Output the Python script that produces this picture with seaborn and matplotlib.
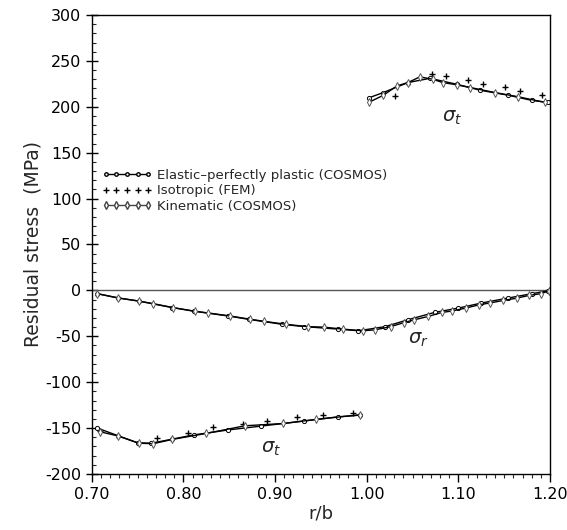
import numpy as np
import pandas as pd
import matplotlib
matplotlib.use("Agg")
import matplotlib.pyplot as plt
import seaborn as sns
from matplotlib.ticker import MultipleLocator, FormatStrFormatter
from matplotlib.lines import Line2D

# ---- data ----
series_names = ["Elastic\u2013perfectly plastic (COSMOS)", "Isotropic (FEM)", "Kinematic (COSMOS)"]

# Elastic-perfectly plastic (COSMOS)
ep_t_in_r = [0.706, 0.729, 0.750, 0.765, 0.788, 0.811, 0.849, 0.885, 0.931, 0.969, 0.993]
ep_t_in_s = [-150, -158.5, -166, -166.5, -162, -157.5, -152, -147.8, -142.4, -137.7, -135.9]
ep_r_r = [0.706, 0.729, 0.751, 0.788, 0.812, 0.849, 0.871, 0.908, 0.932, 0.969, 0.991,
          1.020, 1.045, 1.074, 1.100, 1.125, 1.154, 1.180, 1.198]
ep_r_s = [-3.6, -8.3, -11.6, -18.8, -22.8, -27.9, -31.5, -37.0, -39.5, -42.2, -44.0,
          -39.5, -32.0, -24.0, -19.3, -13.8, -8.4, -3.6, -0.5]
ep_t_out_r = [1.003, 1.018, 1.045, 1.069, 1.098, 1.124, 1.154, 1.180, 1.198]
ep_t_out_s = [210, 215.5, 226.4, 231, 224.6, 218, 212.7, 207, 204.7]

# Kinematic (COSMOS)
ki_t_in_r = [0.709, 0.729, 0.751, 0.767, 0.788, 0.825, 0.867, 0.909, 0.945, 0.993]
ki_t_in_s = [-154, -158.7, -166.5, -167, -162.3, -155.8, -147.5, -145, -140.5, -135.5]
ki_r_r = [0.706, 0.729, 0.751, 0.767, 0.789, 0.813, 0.827, 0.851, 0.873, 0.888, 0.912, 0.936,
          0.953, 0.974, 0.996, 1.009, 1.026, 1.041, 1.052, 1.067, 1.082, 1.093, 1.108, 1.123,
          1.134, 1.149, 1.164, 1.177, 1.190, 1.199]
ki_r_s = [-3.6, -8.3, -11.6, -14.5, -18.8, -22.8, -24.6, -27.9, -31.5, -33.7, -37.0, -39.5,
          -40.0, -42.2, -44.0, -43.0, -39.5, -35.0, -32.0, -28.4, -24.0, -22.5, -19.3, -15.6,
          -13.8, -11.0, -8.4, -5.5, -3.6, -0.5]
ki_t_out_r = [1.002, 1.018, 1.033, 1.045, 1.058, 1.072, 1.083, 1.098, 1.113, 1.140, 1.165, 1.195]
ki_t_out_s = [204.7, 212.5, 222.8, 226.4, 232.6, 230, 226.4, 224, 221, 215.5, 211, 204.7]

# Isotropic (FEM)
is_t_in_r = [0.709, 0.771, 0.805, 0.832, 0.865, 0.891, 0.924, 0.952, 0.985]
is_t_in_s = [-153, -161, -155, -149, -145.6, -142, -138.4, -136.2, -133.4]
is_t_out_r = [1.031, 1.071, 1.087, 1.111, 1.127, 1.151, 1.167, 1.191]
is_t_out_s = [212, 236, 233.7, 229, 225, 221.7, 217, 212.7]

# ---- figure ----
sns.set_theme(style="ticks")
plt.rcParams["font.family"] = ["DejaVu Sans"]
plt.rcParams["axes.unicode_minus"] = False
fig = plt.figure(figsize=(5.67, 5.30), dpi=100)
ax = fig.add_axes([0.162, 0.1057, 0.808, 0.866])

line_kw = dict(color="black", linewidth=1.0, sort=False, estimator=None)

def seg(r, s):
    return pd.DataFrame({"r": r, "s": s})

# zero line
ax.axhline(0, color="#555555", linewidth=1.0, zorder=1)

for r, s in [(ep_t_in_r, ep_t_in_s), (ep_r_r, ep_r_s), (ep_t_out_r, ep_t_out_s)]:
    sns.lineplot(data=seg(r, s), x="r", y="s", ax=ax, marker="o", markersize=3,
                 markerfacecolor="white", markeredgecolor="black", markeredgewidth=0.7,
                 **line_kw)
for r, s in [(ki_t_in_r, ki_t_in_s), (ki_r_r, ki_r_s), (ki_t_out_r, ki_t_out_s)]:
    sns.lineplot(data=seg(r, s), x="r", y="s", ax=ax, marker="d", markersize=4,
                 markerfacecolor="white", markeredgecolor="#555555", markeredgewidth=0.7,
                 **line_kw)
for r, s in [(is_t_in_r, is_t_in_s), (is_t_out_r, is_t_out_s)]:
    sns.scatterplot(data=seg(r, s), x="r", y="s", ax=ax, marker="+", s=22, color="black",
                    linewidth=1.0)

handles = [
    Line2D([0], [0], color="black", lw=1.0, marker="o", markersize=2.5, markerfacecolor="white",
           markeredgecolor="black"),
    Line2D([0], [0], color="black", lw=0, marker="+", markersize=4.5),
    Line2D([0], [0], color="#444444", lw=1.0, marker="d", markersize=4, markerfacecolor="white",
           markeredgecolor="#444444"),
]
ax.legend(handles, series_names, loc="upper left", bbox_to_anchor=(0.022, 0.665),
          frameon=False, fontsize=9.5, handlelength=3.8, handletextpad=0.4,
          labelspacing=0.2, borderaxespad=0, borderpad=0, numpoints=5)

# annotations
ax.text(1.093, 188, r"$\sigma_t$", fontsize=14, ha="center", va="center")
ax.text(1.056, -54, r"$\sigma_r$", fontsize=14, ha="center", va="center")
ax.text(0.896, -172, r"$\sigma_t$", fontsize=14, ha="center", va="center")

ax.set_xlim(0.70, 1.20)
ax.set_ylim(-200, 300)
ax.xaxis.set_major_locator(MultipleLocator(0.1))
ax.xaxis.set_minor_locator(MultipleLocator(0.01))
ax.yaxis.set_major_locator(MultipleLocator(50))
ax.yaxis.set_minor_locator(MultipleLocator(10))
ax.xaxis.set_major_formatter(FormatStrFormatter("%.2f"))
ax.tick_params(axis="both", which="major", labelsize=11.5, length=6, width=1.0,
               direction="out", colors="black")
ax.tick_params(axis="x", which="minor", length=3, width=0.8, direction="out")
ax.tick_params(axis="y", which="minor", length=3, width=0.8, direction="in")
ax.tick_params(axis="y", which="major", direction="inout", length=8)
for sp in ax.spines.values():
    sp.set_linewidth(1.0)
    sp.set_color("black")

ax.set_xlabel("r/b", fontsize=13, labelpad=2)
ax.set_ylabel("Residual stress  (MPa)", fontsize=13.5, labelpad=2)

fig.savefig("out.png", dpi=100, facecolor="white")
